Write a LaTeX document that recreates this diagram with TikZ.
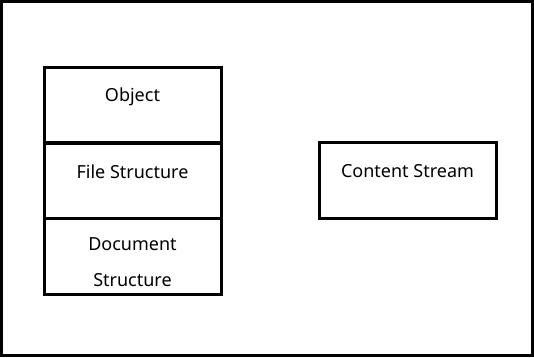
\documentclass[tikz,border=0pt]{standalone}
\usepackage{fontspec}
\setmainfont{Noto Sans}
\tikzset{
    layer/.style={draw, line width=2.25pt, minimum width=132.75pt, minimum height=57pt, inner sep=0pt},
    caption/.style={anchor=center, font=\fontsize{13.5}{27}\selectfont, align=center, inner sep=0pt},
}
\begin{document}
\begin{tikzpicture}[x=0.75pt, y=-0.75pt]
    \useasboundingbox (0,0) rectangle (534,357);
    \draw[line width=2.25pt] (1.5,1.5) rectangle (532.5,355.5);
    \node[layer] (object) at (132.5,105) {};
    \node[layer] (file) at (132.5,180.5) {};
    \node[layer] (document) at (132.5,256) {};
    \node[layer] (stream) at (407.5,180.5) {};
    \node[caption] (objecttxt) at (132.5,96.5) {Object};
    \node[caption] (filetxt) at (132.5,171.5) {File Structure};
    \node[caption] (documenttxt) at (132.5,262.5) {Document\\Structure};
    \node[caption] (streamtxt) at (407.5,171.5) {Content Stream};
\end{tikzpicture}
\end{document}
